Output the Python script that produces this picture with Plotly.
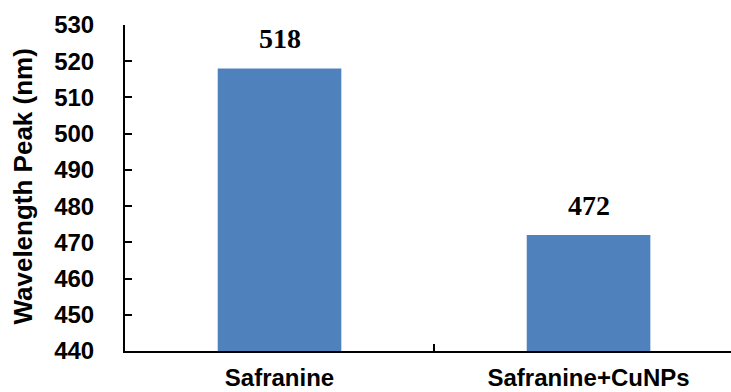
import plotly.graph_objects as go

categories = ["Safranine", "Safranine+CuNPs"]
peak_nm = [518, 472]
y_ticks = [440, 450, 460, 470, 480, 490, 500, 510, 520, 530]
y_floor = 440
y_title = "Wavelength Peak (nm)"

bar_color = "#4F81BD"
sans = "Arial, Liberation Sans, sans-serif"
serif = "Times New Roman, Liberation Serif, serif"

fig = go.Figure(
    go.Bar(
        x=categories,
        y=[v - y_floor for v in peak_nm],
        base=y_floor,
        width=0.4,
        marker=dict(color=bar_color, line=dict(width=0)),
    )
)

# value labels above each bar
for cat, val in zip(categories, peak_nm):
    fig.add_annotation(
        x=cat, y=val, text=str(val), showarrow=False,
        yanchor="bottom", yshift=12,
        font=dict(family=serif, size=28, color="black", weight="bold"),
    )

# rotated y-axis title placed in the left margin
fig.add_annotation(
    xref="paper", yref="paper", x=-0.168, y=0.505,
    text=y_title, textangle=-90, showarrow=False,
    xanchor="center", yanchor="middle",
    font=dict(family=sans, size=26, color="black", weight="bold"),
)

fig.update_layout(
    template="none",
    width=731, height=392,
    margin=dict(l=125, r=0, t=25, b=41, autoexpand=False),
    paper_bgcolor="white", plot_bgcolor="white",
    showlegend=False,
)

fig.update_xaxes(
    type="category",
    range=[-0.5, 1.461],
    automargin=False,
    showline=True, linecolor="black", linewidth=2,
    ticks="inside", ticklen=7, tickwidth=2, tickcolor="black",
    tickson="boundaries",
    showgrid=False, zeroline=False,
    tickfont=dict(family=sans, size=24, color="black", weight="bold"),
    ticklabelstandoff=4,
)

fig.update_yaxes(
    range=[440, 530],
    tickvals=y_ticks,
    automargin=False,
    showline=True, linecolor="black", linewidth=2,
    ticks="inside", ticklen=7, tickwidth=2, tickcolor="black",
    showgrid=False, zeroline=False,
    tickfont=dict(family=sans, size=24, color="black", weight="bold"),
    ticklabelstandoff=24,
)

fig.write_html("out.html")
